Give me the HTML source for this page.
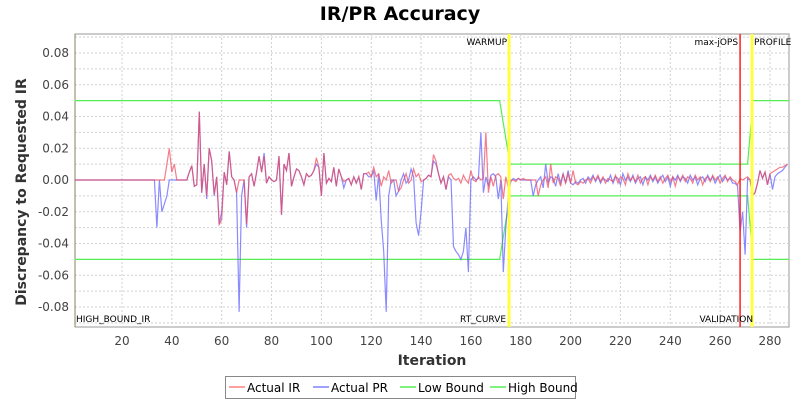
<!DOCTYPE html>
<html><head><meta charset="utf-8"><style>
body{margin:0;background:#fff;font-family:"DejaVu Sans",sans-serif}
svg text{font-family:"DejaVu Sans","Liberation Sans",sans-serif}
</style></head><body>
<svg id="chart" width="800" height="400" xmlns="http://www.w3.org/2000/svg">
<rect width="800" height="400" fill="#fff"/>
<text x="400" y="20" text-anchor="middle" font-size="19" font-weight="bold">IR/PR Accuracy</text>
<g id="grid"></g><g id="axes"></g><g id="series"></g><g id="markers"></g>
<text transform="translate(26,192) rotate(-90)" text-anchor="middle" font-size="14" font-weight="bold" fill="#333">Discrepancy to Requested IR</text>
<text x="432" y="365" text-anchor="middle" font-size="14" font-weight="bold" fill="#333">Iteration</text>
<g>
<rect x="225.5" y="376.5" width="350" height="22" fill="#fff" stroke="#888"/>
<g><line x1="229" y1="387" x2="245" y2="387" stroke="#ff8080" stroke-width="1.5"/><text x="247" y="392" font-size="12">Actual IR</text></g>
<g><line x1="313" y1="387" x2="329" y2="387" stroke="#8080ff" stroke-width="1.5"/><text x="331" y="392" font-size="12">Actual PR</text></g>
<g><line x1="400" y1="387" x2="416" y2="387" stroke="#55ee55" stroke-width="1.5"/><text x="418" y="392" font-size="12">Low Bound</text></g>
<g><line x1="490" y1="387" x2="506" y2="387" stroke="#55ee55" stroke-width="1.5"/><text x="508" y="392" font-size="12">High Bound</text></g>
</g>
</svg>
<script>
const xTicks=[20,40,60,80,100,120,140,160,180,200,220,240,260,280];
const yTicks=[-0.08,-0.06,-0.04,-0.02,0,0.02,0.04,0.06,0.08];
const startIter=34;
const tailStart=266;
const irVals=[0,0,0,0,0.01,0.02,0.005,0.01,0,0,0,0,0,0.005,0.009,-0.004,-0.003,0.043,-0.008,0.01,-0.01,0.02,0.012,-0.009,0.002,-0.028,-0.025,0.005,-0.003,0.018,0.002,0,-0.008,0,0,0,-0.028,0.002,0.004,-0.004,0.005,0.015,0.005,0.015,-0.002,0.002,0,-0.001,0,0.015,-0.022,0.01,0.006,0.017,-0.004,0.002,0.007,0.006,0.002,-0.003,0.004,0.002,0.003,0.006,0.014,0.008,-0.01,0.017,-0.002,0.001,-0.001,0.008,-0.004,0.007,0.002,-0.001,0,0.001,-0.003,0.002,-0.002,0.002,-0.006,0.004,0.004,0.005,0.002,0.008,0.002,0.004,-0.004,0.002,0,0.006,-0.002,0,0,-0.007,-0.005,0,0.004,-0.002,0,0.007,0.002,0.004,-0.001,0,0.001,0.003,0.002,0.016,0.012,0.004,-0.002,0.002,-0.006,0.003,0.004,0.001,0,0.001,-0.002,0.003,0,-0.002,0.006,0,-0.001,0.002,0,0.001,0.03,-0.008,0.002,-0.004,0.003,0.004,0.002,-0.012,0.002,-0.005,0,0,-0.001,0.001,0,0.001,0,0,0,0,0,-0.01,-0.003,0,0.002,-0.005,0.01,-0.002,0.002,0.001,-0.004,0.004,-0.002,0.004,-0.002,0.006,-0.002,-0.003,-0.001,-0.002,0];
const prVals=[-0.03,0,-0.02,-0.015,-0.01,0,0,0,0,0,0,0,0,0.005,0.009,-0.004,-0.003,0.043,-0.008,0.01,-0.012,0.02,0.012,-0.01,0.002,-0.028,-0.02,0.005,-0.003,0.018,0.002,0,-0.008,-0.083,-0.01,0,-0.03,0.002,0.004,-0.004,0.005,0.015,0.005,0.017,-0.002,0.002,0,-0.001,0,0.015,-0.022,0.01,0.006,0.017,-0.004,0.002,0.007,0.006,0.002,-0.003,0.004,0.002,0.003,0.006,0.01,0.008,-0.01,0.017,-0.002,0.001,-0.001,0.008,-0.004,0.007,0.002,-0.005,0,0.001,-0.003,0.002,-0.002,0.002,-0.006,0.004,0.004,0.002,0.002,0.006,-0.013,0.004,-0.025,-0.045,-0.083,-0.01,0,0,-0.01,-0.007,0,0.004,-0.002,0,0.007,0.002,-0.027,-0.035,-0.02,0,0.001,0.003,0.002,0.012,0.01,0.004,-0.002,0.002,-0.006,0.002,0,-0.042,-0.045,-0.047,-0.05,-0.045,-0.03,-0.058,0,0.002,0,0.001,0.03,-0.008,0.002,-0.004,0.003,0.004,0.002,-0.012,0,-0.058,-0.03,-0.01,-0.001,0.001,0,0.001,0,0,0,0,0,-0.01,-0.003,0,0.002,-0.005,0.01,-0.002,0.002,0.001,-0.004,0.004,-0.002,0.004,-0.002,0.006,-0.002,-0.003,-0.001,-0.002,0];
const noiseVals=[0.001,-0.002,0.002,0,0.003,-0.001,0.002,-0.002,0.001,0,
-0.001,0.003,-0.002,0.002,0.001,-0.003,0.004,0,0.002,-0.001,
0.003,-0.002,0.001,0.002,-0.003,0.002,0,0.003,-0.001,0.002,
-0.002,0.001,0.003,-0.001,0.002,-0.004,0.002,0,0.003,-0.001,
0.002,0.001,-0.002,0.003,0,0.002,-0.003,0.001,0.002,-0.001,
0.003,0,0.002,-0.002,0.001,0.003,-0.001,0.002,0,0.001,
-0.002,0.002,0.001,0,-0.001];
const irTail=[-0.001,-0.003,0.001,0,0.001,0.002,0,-0.01,-0.008,-0.002,0.006,0.001,0.005,-0.003,0.004,0.005,0.006,0.007,0.008,0.008,0.009,0.01];
const prTail=[-0.002,-0.004,-0.033,-0.02,-0.047,0.001,0,-0.01,-0.008,-0.002,0.006,0.001,0.005,-0.003,0.004,-0.006,0.002,0.004,0.005,0.006,0.008,0.01];
const boundIters=[1,171.5,175.7,271,273.2,287.7];
const highVals=[0.05,0.05,0.01,0.01,0.05,0.05];
const lowVals=[-0.05,-0.05,-0.01,-0.01,-0.05,-0.05];
const markerIters=[175.3,268,272.8];
const markerLabels=["WARMUP","max-jOPS","PROFILE"];
const bottomLabels=["HIGH_BOUND_IR","RT_CURVE","VALIDATION"];

const L=75,R=789,T=34,B=327;
const X=v=>72.15+v*2.4923;
const Y=v=>180-v*1587.5;
const NS="http://www.w3.org/2000/svg";
function mk(tag,attrs,parent){const e=document.createElementNS(NS,tag);for(const k in attrs)e.setAttribute(k,attrs[k]);parent.appendChild(e);return e;}
const grid=document.getElementById('grid'),axes=document.getElementById('axes'),series=document.getElementById('series'),markers=document.getElementById('markers');
const bg=mk('rect',{x:L,y:T,width:R-L,height:B-T,fill:'#fff',stroke:'#999'},grid);


for(const t of xTicks){
 const g=mk('line',{x1:X(t),x2:X(t),y1:T,y2:B,stroke:'#d0d0d0','stroke-dasharray':'2,2'},grid);
 
 
 const tx=mk('text',{x:X(t),y:B+18,'text-anchor':'middle','font-size':12,fill:'#444'},axes);tx.textContent=t;
 
 
}
for(let v=-0.09;v<=0.091;v+=0.01){
 const g=mk('line',{x1:L,x2:R,y1:Y(v),y2:Y(v),stroke:'#d0d0d0','stroke-dasharray':'2,2'},grid);
 
 
}
for(const t of yTicks){
 const tx=mk('text',{x:L-6,y:Y(t)+4,'text-anchor':'end','font-size':12,fill:'#444'},axes);tx.textContent=t.toFixed(2);
 
 
}
const ax=mk('line',{x1:L,x2:L,y1:T,y2:B,stroke:'#888060'},axes);


function poly(xs,ys,color,name){
 const pts=xs.map((x,i)=>X(x).toFixed(1)+','+Y(ys[i]).toFixed(1)).join(' ');
 const p=mk('polyline',{points:pts,fill:'none',stroke:color,'stroke-width':1.2},series);
 
 
}
function full(main,tail){
 const xs=[1,startIter-1],ys=[0,0];
 main.forEach((v,i)=>{xs.push(startIter+i);ys.push(v);});
 const ns=startIter+main.length;
 noiseVals.slice(0,Math.max(0,tailStart-ns)).forEach((v,i)=>{xs.push(ns+i);ys.push(v);});
 tail.forEach((v,i)=>{xs.push(tailStart+i);ys.push(v);});
 return [xs,ys];
}
poly(boundIters,lowVals,'#55ee55','low-bound-line');
poly(boundIters,highVals,'#55ee55','high-bound-line');
const [px,py]=full(prVals,prTail);poly(px,py,'rgba(100,100,255,0.75)','actual-pr-line');
const [ix,iy]=full(irVals,irTail);poly(ix,iy,'rgba(240,70,90,0.7)','actual-ir-line');
const mcol=['#ffff40','#ff2020','#ffff40'];
markerIters.forEach((m,i)=>{
 const l=mk('line',{x1:X(m),x2:X(m),y1:T,y2:B,stroke:mcol[i],'stroke-width':i==1?1.5:3},markers);
 
 
 const t=mk('text',{x:X(m)-2,y:T+11,'text-anchor':i==2?'start':'end','font-size':9},markers);
 if(i==2)t.setAttribute('x',X(m)+2);
 t.textContent=markerLabels[i];
 
 
});
const bx=[L+1,X(markerIters[0])-3,X(markerIters[1])+13],ba=['start','end','end'];
bottomLabels.forEach((s,i)=>{
 const t=mk('text',{x:bx[i],y:B-5,'text-anchor':ba[i],'font-size':9},markers);t.textContent=s;
 
 
});
</script>
</body></html>
